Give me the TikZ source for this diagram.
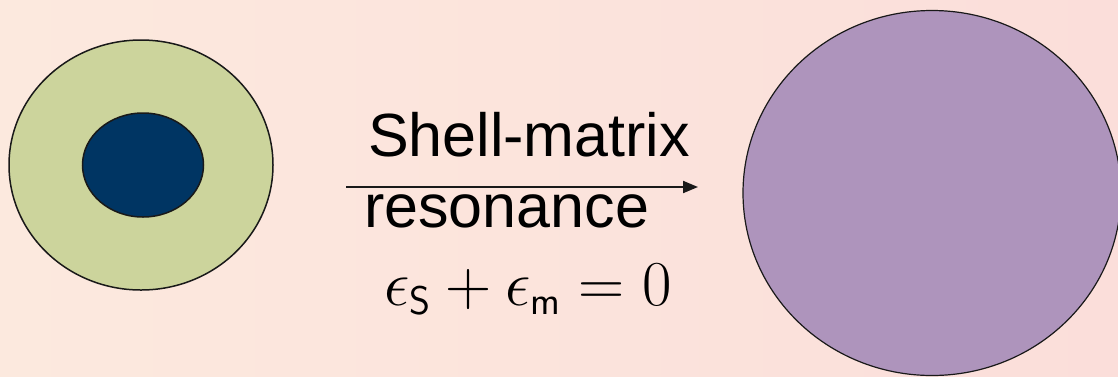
\RequirePackage{fix-cm}
\documentclass[tikz,border=0pt]{standalone}
\usepackage{amsmath, amssymb}
\usepackage{fontspec}
\usepackage{tikz}
\usetikzlibrary{arrows.meta, positioning, shapes.geometric}
\usepackage{xcolor}
\newfontfamily\helvfont{Liberation Sans}
\DeclareMathSizes{64}{64}{40}{28}
\definecolor{fondclair}{RGB}{252,233,222}
\definecolor{fondrose}{RGB}{251,222,218}
\definecolor{coquille}{RGB}{204,212,156}
\definecolor{noyau}{RGB}{0,53,99}
\definecolor{fusion}{RGB}{174,148,188}
\definecolor{contour}{RGB}{25,25,25}

\begin{document}
\begin{tikzpicture}[x=1pt, y=-1pt,
    particule/.style={ellipse, draw=contour, line width=1.5pt,
                      inner sep=0pt, outer sep=0pt},
    legende/.style={inner sep=0pt, font=\helvfont\fontsize{61}{70}\selectfont}]

    % Fond dégradé
    \useasboundingbox (0,0) rectangle (1118,376);
    \shade[left color=fondclair, right color=fondrose] (0,0) rectangle (1118,376);

    % Particule coeur-coquille (gauche)
    \node[particule, fill=coquille, minimum width=264pt,
          minimum height=250pt] (coquille) at (141,165) {};
    \node[particule, fill=noyau, minimum width=121pt,
          minimum height=104pt] (noyau) at (143,165) {};

    % Particule résultante (droite)
    \node[particule, fill=fusion, line width=1.2pt, minimum width=378pt,
          minimum height=365pt] (fusion) at (932,193) {};

    % Flèche de résonance
    \coordinate (depart) at (346,187);
    \coordinate (arrivee) at (698,187);
    \draw[-{Triangle[length=15pt, width=12pt]}, line width=2pt, contour]
      (depart) -- (arrivee);

    % Textes
    \node[legende, anchor=base] (titre) at (529,156) {Shell-matrix};
    \node[legende, anchor=base west] (resonance) at (364,227) {resonance};
    \node[inner sep=0pt, anchor=base, font=\fontsize{64}{72}\selectfont]
      (condition) at (528,305)
      {$\epsilon_{\mathsf{S}}+\epsilon_{\mathsf{m}}=0$};

\end{tikzpicture}
\end{document}
